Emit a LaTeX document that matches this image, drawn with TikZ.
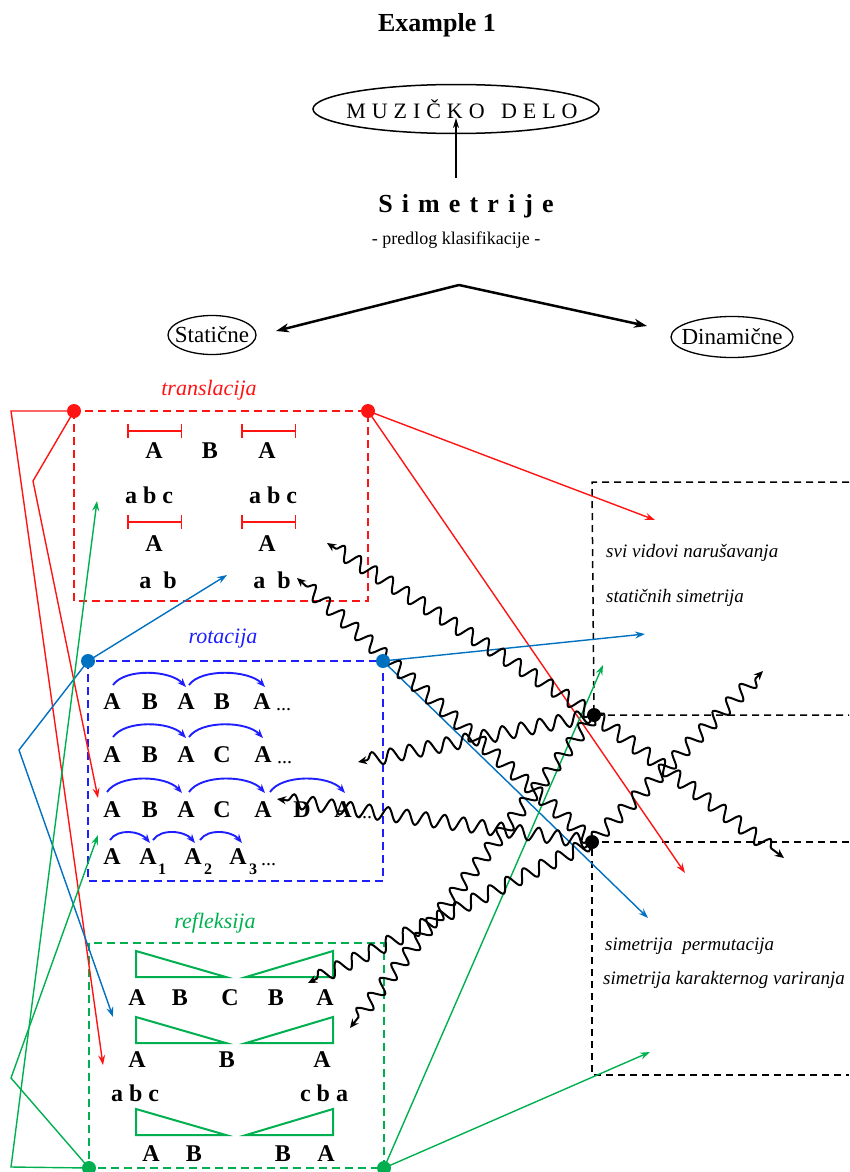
\documentclass[tikz,border=0pt]{standalone}
\usepackage{fontspec}
\setmainfont{Liberation Serif}
\newfontfamily\spacedA[LetterSpace=27]{Liberation Serif}
\newfontfamily\spacedB[LetterSpace=35]{Liberation Serif}
\usetikzlibrary{arrows.meta,decorations.pathmorphing,shapes.geometric}
\definecolor{myred}{RGB}{255,20,20}
\definecolor{dashblue}{RGB}{30,30,255}
\definecolor{lineblue}{RGB}{0,112,192}
\definecolor{mygreen}{RGB}{0,176,80}
\begin{document}
\begin{tikzpicture}[x=1pt,y=-1pt,
  lt/.style={font=\fontsize{24}{26}\selectfont\bfseries, inner sep=0pt},
  sb/.style={font=\fontsize{16}{18}\selectfont\bfseries, inner sep=0pt},
  dts/.style={font=\fontsize{20}{22}\selectfont, inner sep=0pt, anchor=base west},
  lab/.style={font=\fontsize{22}{24}\selectfont\itshape, inner sep=0pt},
  dtxt/.style={font=\fontsize{19}{21}\selectfont\itshape, inner sep=0pt, anchor=west},
  dotnode/.style={circle, fill=#1, inner sep=0pt, minimum size=14pt},
  kdot/.style={circle, fill=black, inner sep=0pt, minimum size=14pt},
  conn/.style={line width=1.4pt, -{Stealth[length=10pt,width=7pt,inset=3.5pt]}},
  wavy/.style={line width=2pt, decorate,
     decoration={snake, amplitude=7pt, segment length=19pt, post length=8pt, pre length=1pt},
     -{Stealth[length=9pt,width=8pt,inset=3pt]}},
  box/.style={line width=2pt, dash pattern=on 8pt off 5pt},
  bdash/.style={line width=1.5pt, dash pattern=on 7pt off 5pt},
  rarc/.style={draw=dashblue, line width=1.9pt, -{Stealth[length=9pt,width=7pt,inset=3pt]}},
  tri/.style={draw=mygreen, line width=2pt},
  brk/.style={draw=myred, line width=1.5pt, {Bar[width=14pt]}-{Bar[width=14pt]}},
  varrow/.style={line width=2.5pt, -{Stealth[length=13pt,width=9pt,inset=4pt]}}
]
\useasboundingbox (0,0) rectangle (849,1172);

% ---------- top part ----------
\node[font=\fontsize{26}{28}\selectfont\bfseries, inner sep=0pt] (title) at (437,25) {Example 1};
\node[ellipse, draw, line width=1.5pt, minimum width=286pt, minimum height=49pt, inner sep=0pt] (md) at (456,109) {};
\node[inner sep=0pt, font=\spacedA\fontsize{22}{24}\selectfont] (mdt) at (462,109) {MUZIČKO\hspace{5pt} DELO};
\node[inner sep=0pt, font=\spacedB\fontsize{26}{28}\selectfont\bfseries] (sim) at (466,206) {Simetrije};
\node[inner sep=0pt, font=\fontsize{18}{20}\selectfont] (pred) at (456,240) {- predlog klasifikacije -};
\coordinate (simtop) at (456,178);
\coordinate (mdtip) at (456,118);
\draw[line width=1.5pt, -{Stealth[length=10pt,width=6pt,inset=3pt]}] (simtop) -- (mdtip);

\node[ellipse, draw, line width=1.3pt, minimum width=88pt, minimum height=39pt, inner sep=0pt] (stat) at (212,335) {};
\node[inner sep=0pt, font=\fontsize{23}{25}\selectfont] (statt) at (stat) {Statične};
\node[ellipse, draw, line width=1.3pt, minimum width=122pt, minimum height=41pt, inner sep=0pt] (dyn) at (732,337) {};
\node[inner sep=0pt, font=\fontsize{23}{25}\selectfont] (dynt) at (dyn) {Dinamične};
\coordinate (apex) at (459,285);
\coordinate (stip) at (276,331);
\coordinate (dtip) at (647,326);
\draw[varrow] (apex) -- (stip);
\draw[varrow] (apex) -- (dtip);

% ---------- dots positions ----------
\coordinate (tl) at (74,411);  \coordinate (tr) at (368,411);
\coordinate (rl) at (88,661);  \coordinate (rr) at (383,661);
\coordinate (fl) at (89,1168); \coordinate (fr) at (384,1168);
\coordinate (k1) at (594,715); \coordinate (k2) at (592,842);

% ---------- boxes ----------
\draw[box, myred] (tl) rectangle (368,601);
\draw[box, dashblue] (rl) rectangle (383,881);
\draw[box, mygreen] (89,943) rectangle (fr);
\node[lab, text=myred] (ltr) at (209,390) {translacija};
\node[lab, text=dashblue] (lrot) at (223,639) {rotacija};
\node[lab, text=mygreen] (lref) at (215,923) {refleksija};

% right dashed regions
\draw[bdash] (849,482) -- (592,482) -- (k1) -- (849,715);
\draw[bdash] (849,842) -- (k2) -- (592,1075) -- (849,1075);
\node[dtxt] (t1) at (606,553) {svi vidovi narušavanja};
\node[dtxt] (t2) at (606,598) {statičnih simetrija};
\node[dtxt] (t3) at (605,946) {simetrija\ \ permutacija};
\node[dtxt] (t4) at (603,980) {simetrija karakternog variranja};

% ---------- translacija content ----------
\draw[brk] (127,431) -- (182,431);
\draw[brk] (241,431) -- (296,431);
\draw[brk] (127,522) -- (182,522);
\draw[brk] (241,522) -- (296,522);
\node[lt] (tA1) at (154,451) {A};
\node[lt] (tB) at (210,451) {B};
\node[lt] (tA2) at (267,451) {A};
\node[lt] (tabc1) at (149,495) {a\hspace{6pt}b\hspace{6pt}c};
\node[lt] (tabc2) at (273,495) {a\hspace{6pt}b\hspace{6pt}c};
\node[lt] (tA3) at (154,544) {A};
\node[lt] (tA4) at (267,544) {A};
\node[lt] (tab1) at (158,580) {a\hspace{12pt}b};
\node[lt] (tab2) at (272,580) {a\hspace{12pt}b};

% ---------- rotacija content ----------
\foreach \x/\t [count=\i] in {112/A,150/B,186/A,222/B,262/A}
  \node[lt] (ra\i) at (\x,702) {\t};
\node[dts] (rad) at (276,710) {...};
\foreach \x/\t [count=\i] in {112/A,150/B,186/A,222/C,263/A}
  \node[lt] (rb\i) at (\x,755) {\t};
\node[dts] (rbd) at (277,763) {...};
\foreach \x/\t [count=\i] in {112/A,150/B,186/A,222/C,263/A,302/D,343/A}
  \node[lt] (rc\i) at (\x,810) {\t};
\node[dts] (rcd) at (357,818) {...};
\node[lt] (rd1) at (112,857) {A};
\node[lt] (rd2) at (148,857) {A};
\node[sb] (rs1) at (162,869) {1};
\node[lt] (rd3) at (193,857) {A};
\node[sb] (rs2) at (208,869) {2};
\node[lt] (rd4) at (238,857) {A};
\node[sb] (rs3) at (253,869) {3};
\node[dts] (rdd) at (261,865) {...};

\draw[rarc] (113,685) .. controls +(12,-17) and +(-16,-17) .. (186,687);
\draw[rarc] (189,685) .. controls +(12,-17) and +(-16,-17) .. (265,687);
\draw[rarc] (113,737) .. controls +(12,-17) and +(-16,-17) .. (186,738);
\draw[rarc] (189,737) .. controls +(12,-17) and +(-16,-17) .. (263,738);
\draw[rarc] (107,792) .. controls +(12,-18) and +(-16,-18) .. (182,793);
\draw[rarc] (189,792) .. controls +(12,-18) and +(-16,-18) .. (265,793);
\draw[rarc] (270,792) .. controls +(12,-18) and +(-16,-18) .. (345,793);
\draw[rarc] (110,840) .. controls +(8,-12) and +(-10,-12) .. (150,843);
\draw[rarc] (153,840) .. controls +(8,-12) and +(-10,-12) .. (195,843);
\draw[rarc] (200,840) .. controls +(8,-12) and +(-10,-12) .. (242,843);

% ---------- refleksija content ----------
\foreach \y in {951,1017,1109}{
  \draw[tri] (136,\y) -- (136,\y+26) -- (226,\y+26) -- cycle;
  \draw[tri] (246,\y+26) -- (333,\y+26) -- (333,\y) -- cycle;
}
\foreach \x/\t [count=\i] in {137/A,180/B,230/C,276/B,325/A}
  \node[lt] (fa\i) at (\x,998) {\t};
\foreach \x/\t [count=\i] in {137/A,227/B,322/A}
  \node[lt] (fb\i) at (\x,1060) {\t};
\node[lt] (fabc) at (135,1093) {a\hspace{6pt}b\hspace{6pt}c};
\node[lt] (fcba) at (324,1093) {c\hspace{6pt}b\hspace{6pt}a};
\foreach \x/\t [count=\i] in {151/A,194/B,283/B,326/A}
  \node[lt] (fc\i) at (\x,1154) {\t};

% ---------- colored connectors ----------
\coordinate (r1a) at (11,411);  \coordinate (r1e) at (103,1065);
\coordinate (r2a) at (33,481);  \coordinate (r2e) at (98,798);
\coordinate (r3e) at (655,520); \coordinate (r4e) at (685,873);
\coordinate (b1e) at (227,575); \coordinate (b2a) at (19,750); \coordinate (b2e) at (113,1017);
\coordinate (b3e) at (645,634); \coordinate (b4e) at (648,918);
\coordinate (g1a) at (11,1167); \coordinate (g1e) at (97,501);
\coordinate (g2a) at (11,1078); \coordinate (g2e) at (98,835);
\coordinate (g3e) at (603,665); \coordinate (g4e) at (650,1052);

\draw[conn, myred] (tl) -- (r1a) -- (r1e);
\draw[conn, myred] (tl) -- (r2a) -- (r2e);
\draw[conn, myred] (tr) -- (r3e);
\draw[conn, myred] (tr) -- (r4e);
\draw[conn, lineblue] (rl) -- (b1e);
\draw[conn, lineblue] (rl) -- (b2a) -- (b2e);
\draw[conn, lineblue] (rr) -- (b3e);
\draw[conn, lineblue] (rr) -- (b4e);
\draw[conn, mygreen] (fl) -- (g1a) -- (g1e);
\draw[conn, mygreen] (fl) -- (g2a) -- (g2e);
\draw[conn, mygreen] (fr) -- (g3e);
\draw[conn, mygreen] (fr) -- (g4e);

% ---------- wavy connectors ----------
\coordinate (w1) at (327,543);
\coordinate (w2) at (297,578);
\coordinate (w3) at (358,762);
\coordinate (w4) at (277,799);
\coordinate (w5) at (308,983);
\coordinate (w6) at (350,1028);
\coordinate (w7) at (784,858);
\coordinate (w8) at (763,671);
\draw[wavy] (k1) -- (w1);
\draw[wavy] (k2) -- (w2);
\draw[wavy] (k1) -- (w3);
\draw[wavy] (k2) -- (w4);
\draw[wavy] (k2) -- (w5);
\draw[wavy] (k1) -- (w6);
\draw[wavy] (k1) -- (w7);
\draw[wavy] (k2) -- (w8);

% ---------- dots on top ----------
\node[dotnode=myred] (tlD) at (tl) {};
\node[dotnode=myred] (trD) at (tr) {};
\node[dotnode=lineblue] (rlD) at (rl) {};
\node[dotnode=lineblue] (rrD) at (rr) {};
\node[dotnode=mygreen] (flD) at (fl) {};
\node[dotnode=mygreen] (frD) at (fr) {};
\node[kdot] (k1D) at (k1) {};
\node[kdot] (k2D) at (k2) {};
\end{tikzpicture}
\end{document}
